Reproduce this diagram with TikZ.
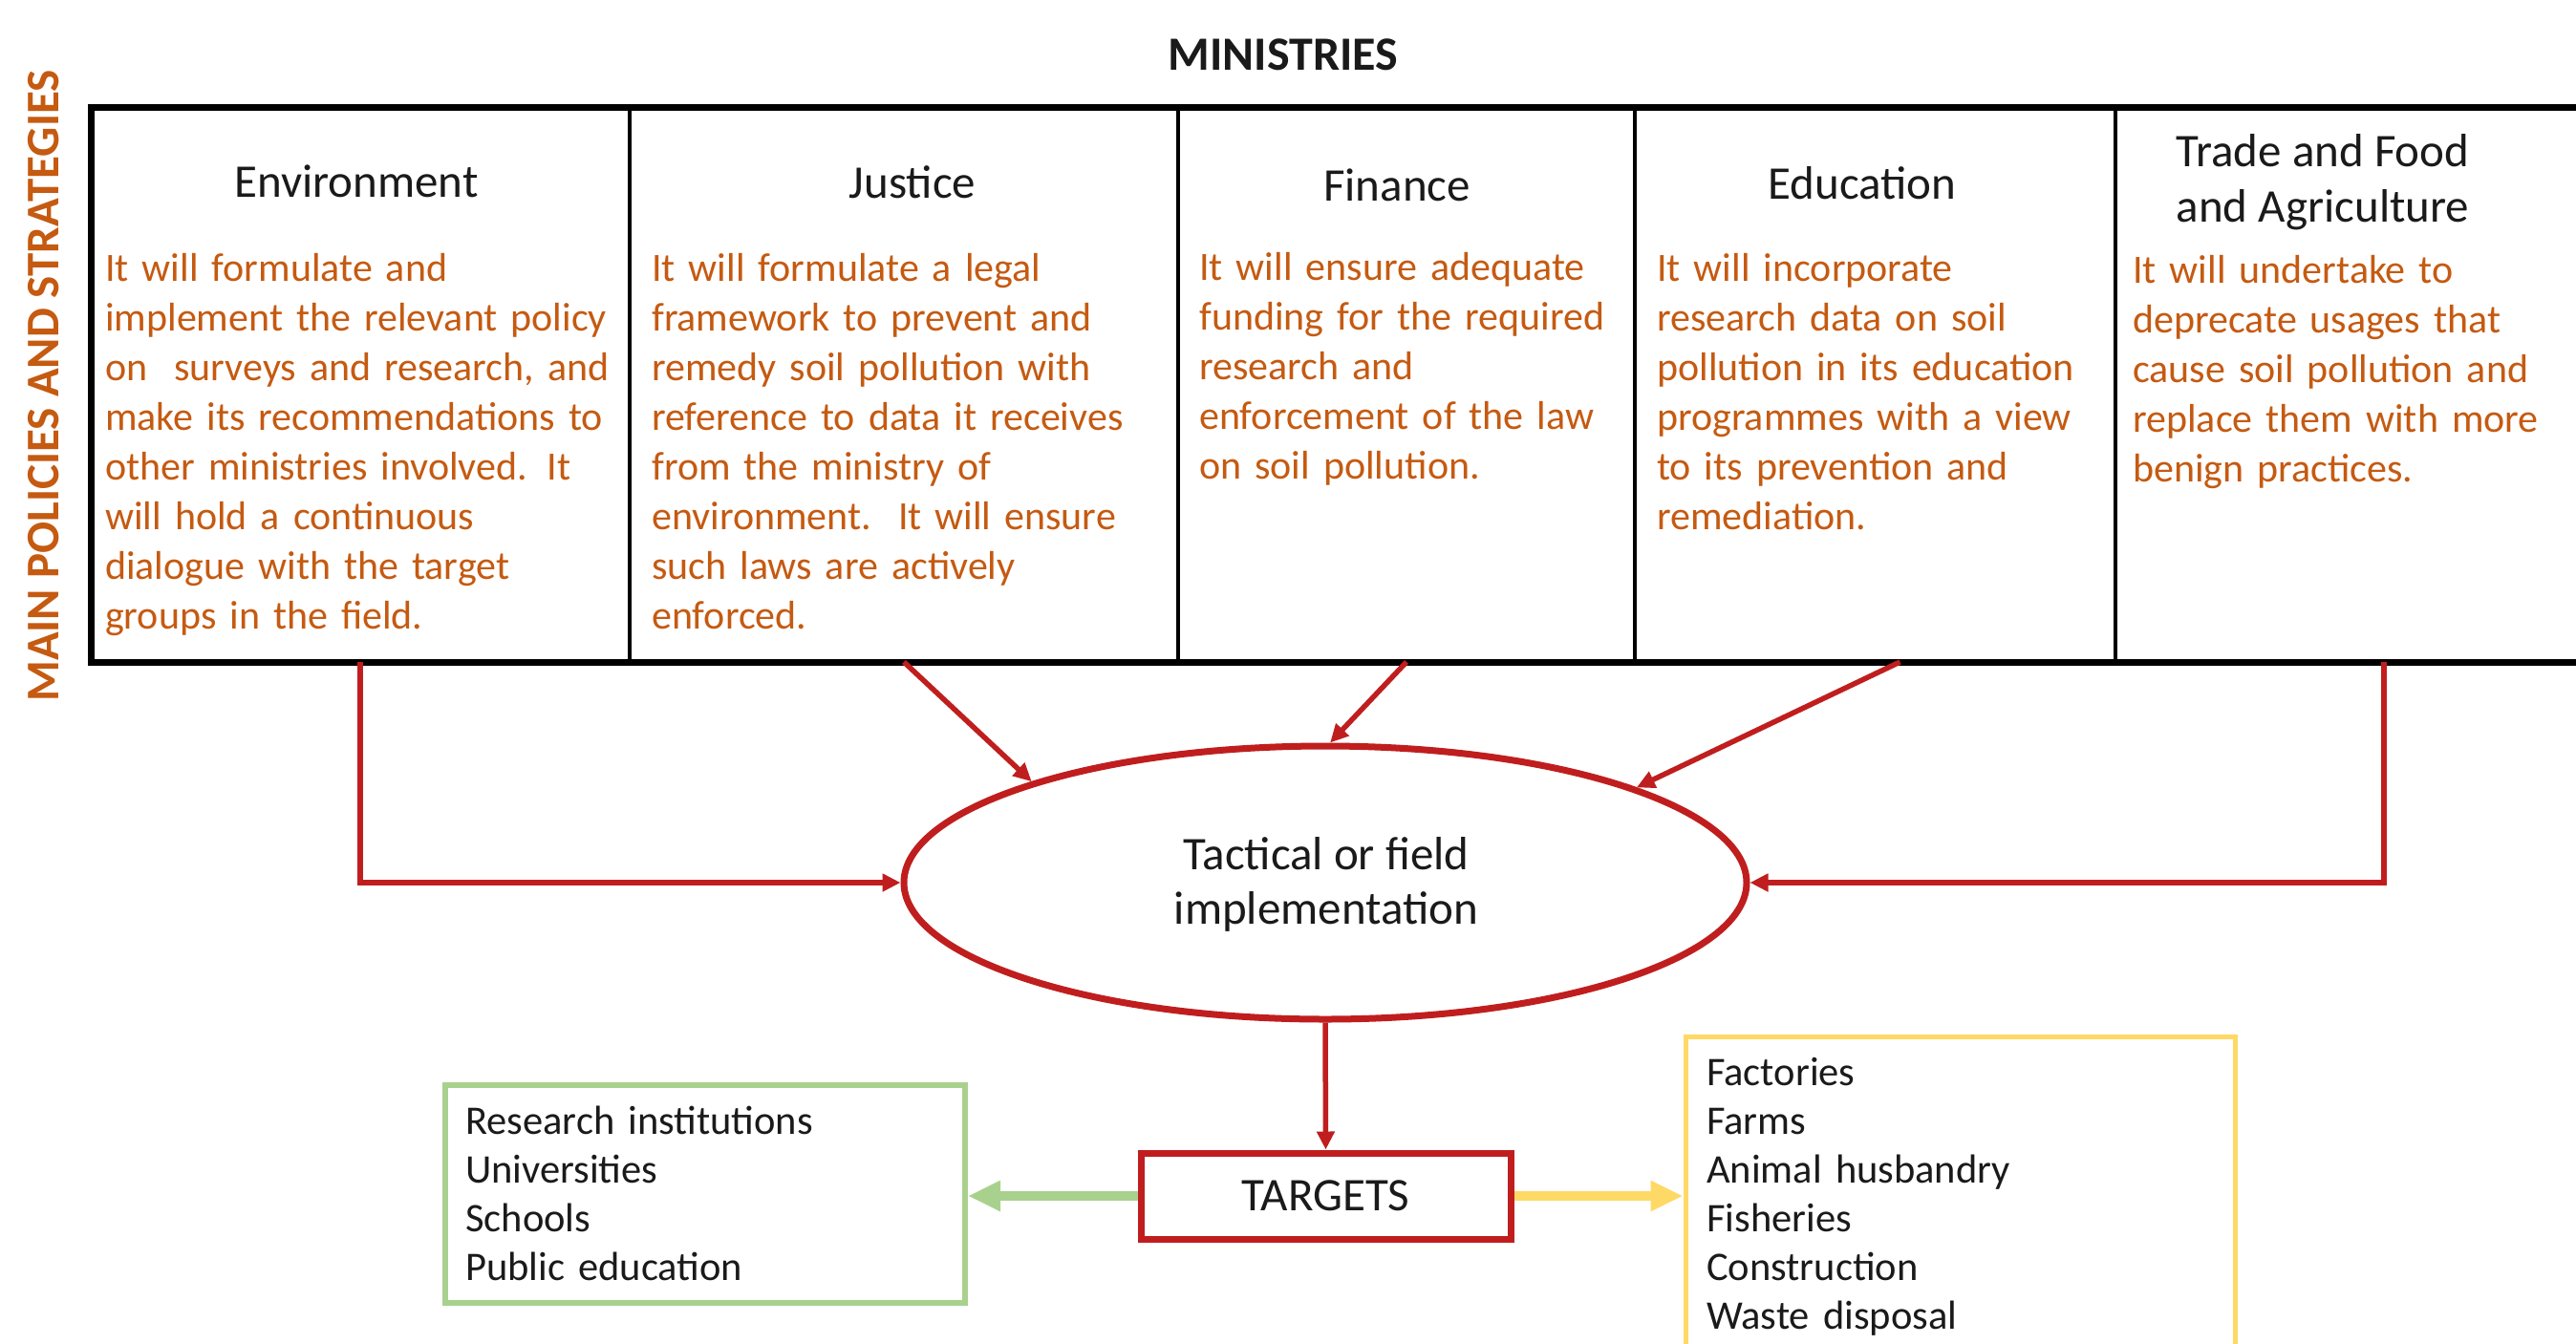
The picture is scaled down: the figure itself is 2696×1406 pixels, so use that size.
\documentclass[tikz,border=0pt]{standalone}
\usepackage{fontspec}
\setmainfont{Carlito}
\usetikzlibrary{arrows.meta,shapes.geometric,calc}
\definecolor{policyorange}{HTML}{C55A11}
\definecolor{linkred}{HTML}{C01E1E}
\definecolor{edugreen}{HTML}{A9D18E}
\definecolor{workyellow}{HTML}{FFD966}
\definecolor{inkblack}{HTML}{1A1A1A}

\begin{document}
\begin{tikzpicture}[x=1pt,y=-1pt,
  cell/.style={draw=black, line width=4pt, minimum height=581pt, inner sep=0pt, outer sep=0pt},
  head/.style={font=\fontsize{49}{58}\selectfont, text=inkblack, anchor=base, inner sep=0pt, align=center},
  body/.style={font=\fontsize{42}{52}\selectfont, text=policyorange, anchor=base west, inner sep=0pt, align=left, text width=560pt},
  listtext/.style={font=\fontsize{42.5}{51}\selectfont, text=inkblack, anchor=base west, inner sep=0pt, align=left, text width=520pt},
  flow/.style={draw=linkred, line width=5.5pt, -{Triangle[length=19pt,width=18pt]}},
  fat/.style={line width=10pt, -{Triangle[length=34pt,width=30pt]}}
]
\useasboundingbox[fill=white] (0,0) rectangle (2696,1406);

% title and side label
\node[anchor=base, font=\bfseries\fontsize{50}{58}\selectfont, text=inkblack, inner sep=0pt] (ministries) at (1343,73) {MINISTRIES};
\node[rotate=90, anchor=base, font=\bfseries\fontsize{49}{58}\selectfont, text=policyorange, inner sep=0pt] (side) at (61,404) {MAIN POLICIES AND STRATEGIES};

% ministry columns
\node[cell, minimum width=564pt] (env) at (377,402.5) {};
\node[cell, minimum width=574pt] (jus) at (946,402.5) {};
\node[cell, minimum width=478pt] (fin) at (1472,402.5) {};
\node[cell, minimum width=503pt] (edu) at (1962.5,402.5) {};
\node[cell, minimum width=562pt] (trade) at (2495,402.5) {};
\draw[line width=7pt] (env.north west) rectangle (trade.south east);

% column headings
\node[head] (envh) at (373,206) {Environment};
\node[head] (jush) at (955,207) {Justice};
\node[head] (finh) at (1462,210) {Finance};
\node[head] (eduh) at (1949,208) {Education};
\node[head] (tradeh) at (2431,232) {Trade and Food\\and Agriculture};

% column texts
\node[body] (envt) at (110,294) {It will formulate and\\implement the relevant policy\\on\ \ surveys and research, and\\make its recommendations to\\other ministries involved. It\\will hold a continuous\\dialogue with the target\\groups in the field.};
\node[body] (just) at (682,294) {It will formulate a legal\\framework to prevent and\\remedy soil pollution with\\reference to data it receives\\from the ministry of\\environment.\ \ It will ensure\\such laws are actively\\enforced.};
\node[body] (fint) at (1255,293) {It will ensure adequate\\funding for the required\\research and\\enforcement of the law\\on soil pollution.};
\node[body] (edut) at (1734,294) {It will incorporate\\research data on soil\\pollution in its education\\programmes with a view\\to its prevention and\\remediation.};
\node[body] (tradet) at (2232,296) {It will undertake to\\deprecate usages that\\cause soil pollution and\\replace them with more\\benign practices.};

% implementation level
\node[ellipse, draw=linkred, line width=7pt, minimum width=882pt, minimum height=286pt, inner sep=0pt] (tact) at (1387,924) {};
\node[font=\fontsize{49}{57}\selectfont, text=inkblack, align=center, anchor=base, inner sep=0pt] (tactt) at (1388,967) {Tactical or field\\implementation};

\node[draw=linkred, line width=7pt, minimum width=387pt, minimum height=90pt, inner sep=0pt,
      font=\fontsize{49}{58}\selectfont, text=inkblack] (targets) at (1387.5,1252) {TARGETS};

% target groups
\node[draw=edugreen, line width=6pt, minimum width=544pt, minimum height=228pt, inner sep=0pt] (acad) at (738,1250) {};
\node[listtext] (acadt) at (487,1187) {Research institutions\\Universities\\Schools\\Public education};
\node[draw=workyellow, line width=5pt, minimum width=575pt, minimum height=345pt, inner sep=0pt] (work) at (2051.5,1257.5) {};
\node[listtext] (workt) at (1786,1136) {Factories\\Farms\\Animal husbandry\\Fisheries\\Construction\\Waste disposal};

% connectors
\draw[flow] (env.south) |- (tact.west);
\draw[flow] (trade.south) |- (tact.east);
\draw[flow] (jus.south) -- (tact.161.7);
\draw[flow] (fin.south) -- (tact.88);
\draw[flow] ($(edu.south)+(26,0)$) -- (tact.17.8);
\draw[flow] (tact.south) -- (targets.north);
\draw[fat, draw=edugreen, fill=edugreen] (targets.west) -- (targets.west -| acad.east);
\draw[fat, draw=workyellow, fill=workyellow] (targets.east) -- (targets.east -| work.west);
\end{tikzpicture}
\end{document}
